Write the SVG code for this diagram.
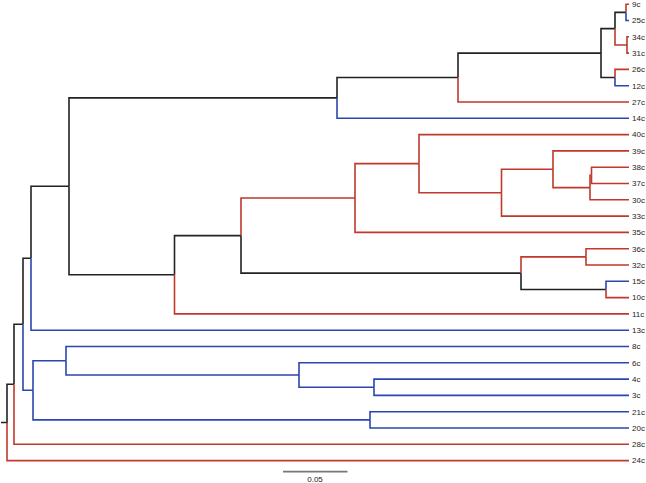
<svg xmlns="http://www.w3.org/2000/svg" width="646" height="483" viewBox="0 0 646 483">
<style>
.b{fill:none;stroke-width:1.6;stroke-linejoin:miter}
.k{stroke:#222}
.r{stroke:#c0392b}
.u{stroke:#2c46b0}
.lbl{font-family:"Liberation Sans",Arial,sans-serif;font-size:8px;fill:#222}
</style>
<rect width="646" height="483" fill="#fff"/>
<g id="connectors">
<path class="b k" d="M1,422.45H7V384.3H14"/>
<path class="b r" d="M7,422.45V460.6H629"/>
<path class="b k" d="M14,384.3V324.3H23"/>
<path class="b r" d="M14,384.3V444.3H629"/>
<path class="b k" d="M23,324.3V258.25H31"/>
<path class="b u" d="M23,324.3V390.3H33"/>
<path class="b k" d="M31,258.25V186.3H69"/>
<path class="b u" d="M31,258.25V330.2H629"/>
<path class="b k" d="M69,186.3V97.9H337"/>
<path class="b k" d="M69,186.3V274.75H174.5"/>
<path class="b k" d="M337,97.9V77.55H458"/>
<path class="b u" d="M337,97.9V118.3H629"/>
<path class="b k" d="M458,77.55V53.1H601"/>
<path class="b r" d="M458,77.55V102H629"/>
<path class="b k" d="M601,53.1V28.65H615"/>
<path class="b k" d="M601,53.1V77.55H615"/>
<path class="b k" d="M615,28.65V12.35H626"/>
<path class="b r" d="M615,28.65V44.95H627"/>
<path class="b r" d="M626,12.35V4.2H629"/>
<path class="b u" d="M626,12.35V20.5H629"/>
<path class="b r" d="M627,44.95V36.8H629"/>
<path class="b r" d="M627,44.95V53.1H629"/>
<path class="b r" d="M615,77.55V69.4H629"/>
<path class="b u" d="M615,77.55V85.7H629"/>
<path class="b k" d="M174.5,274.75V235.6H241"/>
<path class="b r" d="M174.5,274.75V313.9H629"/>
<path class="b r" d="M241,235.6V198H355"/>
<path class="b k" d="M241,235.6V273.15H521"/>
<path class="b r" d="M355,198V163.65H419"/>
<path class="b r" d="M355,198V232.4H629"/>
<path class="b r" d="M419,163.65V134.6H629"/>
<path class="b r" d="M419,163.65V192.7H501.5"/>
<path class="b r" d="M501.5,192.7V169.25H553"/>
<path class="b r" d="M501.5,192.7V216.1H629"/>
<path class="b r" d="M553,169.25V150.9H629"/>
<path class="b r" d="M553,169.25V187.6H590"/>
<path class="b r" d="M590,187.6V175.35H591.5"/>
<path class="b r" d="M590,187.6V199.8H629"/>
<path class="b r" d="M591.5,175.35V167.2H629"/>
<path class="b r" d="M591.5,175.35V183.5H629"/>
<path class="b r" d="M521,273.15V256.85H586"/>
<path class="b k" d="M521,273.15V289.45H606"/>
<path class="b r" d="M586,256.85V248.7H629"/>
<path class="b r" d="M586,256.85V265H629"/>
<path class="b u" d="M606,289.45V281.3H629"/>
<path class="b r" d="M606,289.45V297.6H629"/>
<path class="b u" d="M33,390.3V360.75H66"/>
<path class="b u" d="M33,390.3V419.85H370"/>
<path class="b u" d="M66,360.75V346.5H629"/>
<path class="b u" d="M66,360.75V375H299"/>
<path class="b u" d="M299,375V362.8H629"/>
<path class="b u" d="M299,375V387.25H374"/>
<path class="b u" d="M374,387.25V379.1H629"/>
<path class="b u" d="M374,387.25V395.4H629"/>
<path class="b u" d="M370,419.85V411.7H629"/>
<path class="b u" d="M370,419.85V428H629"/>
</g>
<g id="leaves" class="lbl">
<g id="n9c"><text x="632" y="7">9c</text></g>
<g id="n25c"><text x="632" y="23.3">25c</text></g>
<g id="n34c"><text x="632" y="39.6">34c</text></g>
<g id="n31c"><text x="632" y="55.9">31c</text></g>
<g id="n26c"><text x="632" y="72.2">26c</text></g>
<g id="n12c"><text x="632" y="88.5">12c</text></g>
<g id="n27c"><text x="632" y="104.8">27c</text></g>
<g id="n14c"><text x="632" y="121.1">14c</text></g>
<g id="n40c"><text x="632" y="137.4">40c</text></g>
<g id="n39c"><text x="632" y="153.7">39c</text></g>
<g id="n38c"><text x="632" y="170">38c</text></g>
<g id="n37c"><text x="632" y="186.3">37c</text></g>
<g id="n30c"><text x="632" y="202.6">30c</text></g>
<g id="n33c"><text x="632" y="218.9">33c</text></g>
<g id="n35c"><text x="632" y="235.2">35c</text></g>
<g id="n36c"><text x="632" y="251.5">36c</text></g>
<g id="n32c"><text x="632" y="267.8">32c</text></g>
<g id="n15c"><text x="632" y="284.1">15c</text></g>
<g id="n10c"><text x="632" y="300.4">10c</text></g>
<g id="n11c"><text x="632" y="316.7">11c</text></g>
<g id="n13c"><text x="632" y="333">13c</text></g>
<g id="n8c"><text x="632" y="349.3">8c</text></g>
<g id="n6c"><text x="632" y="365.6">6c</text></g>
<g id="n4c"><text x="632" y="381.9">4c</text></g>
<g id="n3c"><text x="632" y="398.2">3c</text></g>
<g id="n21c"><text x="632" y="414.5">21c</text></g>
<g id="n20c"><text x="632" y="430.8">20c</text></g>
<g id="n28c"><text x="632" y="447.1">28c</text></g>
<g id="n24c"><text x="632" y="463.4">24c</text></g>
</g>
<g id="scalebar">
<path d="M283,471.6H347.5" stroke="#777" stroke-width="1.6" fill="none"/>
<text x="315" y="482" text-anchor="middle" class="lbl">0.05</text>
</g>
</svg>
